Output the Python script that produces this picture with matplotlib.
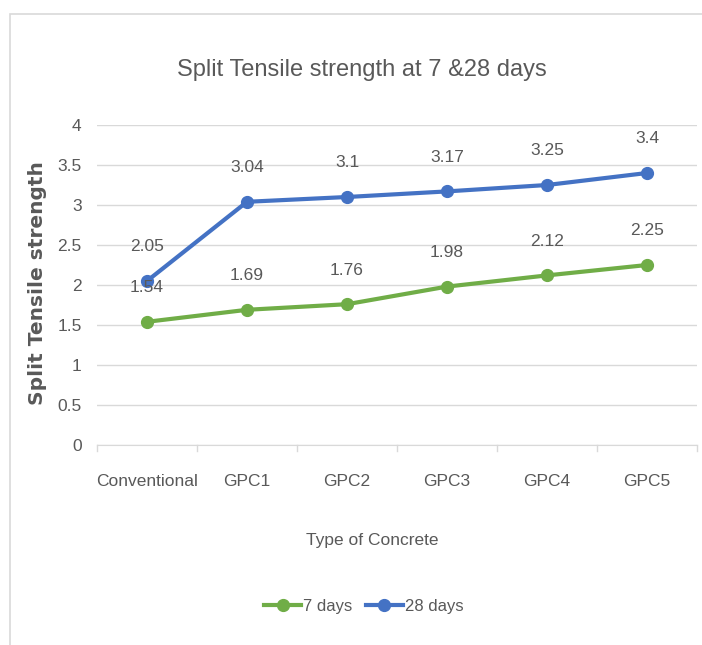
import matplotlib.pyplot as plt
from matplotlib.patches import Rectangle

plt.rcParams['font.family'] = ['Liberation Sans', 'DejaVu Sans']

categories = ['Conventional', 'GPC1', 'GPC2', 'GPC3', 'GPC4', 'GPC5']
days7 = [1.54, 1.69, 1.76, 1.98, 2.12, 2.25]
days28 = [2.05, 3.04, 3.1, 3.17, 3.25, 3.4]
labels7 = ['1.54', '1.69', '1.76', '1.98', '2.12', '2.25']
labels28 = ['2.05', '3.04', '3.1', '3.17', '3.25', '3.4']
yticks = [0, 0.5, 1, 1.5, 2, 2.5, 3, 3.5, 4]
ytick_labels = ['0', '0.5', '1', '1.5', '2', '2.5', '3', '3.5', '4']

green = '#70AD47'
blue = '#4472C4'
grey = '#595959'
W, H = 702, 645

fig = plt.figure(figsize=(W / 100, H / 100), dpi=100)
# chart border (cut off on the right and bottom like the screenshot)
fig.patches.append(Rectangle((10 / W, -0.1), 1.2, 1 - 14 / H + 0.1, transform=fig.transFigure,
                             fill=False, edgecolor='#d9d9d9', linewidth=1.2))
ax = fig.add_axes([97 / W, 1 - 445 / H, 600 / W, 320 / H])

x = list(range(len(categories)))
ax.plot(x, days7, color=green, lw=3, marker='o', ms=8.5, label='7 days', zorder=3)
ax.plot(x, days28, color=blue, lw=3, marker='o', ms=8.5, label='28 days', zorder=3)

for xi, v, t in zip(x, days7, labels7):
    ax.annotate(t, (xi, v), xytext=(0, 24.5), textcoords='offset points', ha='center',
                va='center', fontsize=12.5, color=grey)
for xi, v, t in zip(x, days28, labels28):
    ax.annotate(t, (xi, v), xytext=(0, 24.5), textcoords='offset points', ha='center',
                va='center', fontsize=12.5, color=grey)

ax.set_xlim(-0.5, 5.5)
ax.set_ylim(0, 4)
ax.set_yticks(yticks)
ax.set_yticklabels(ytick_labels)
ax.set_xticks(x)
ax.set_xticklabels(categories)
ax.tick_params(axis='both', length=0, labelsize=12.5, labelcolor=grey)
ax.tick_params(axis='x', pad=21)
ax.tick_params(axis='y', pad=11)
ax.grid(axis='y', color='#d9d9d9', lw=1)
ax.set_axisbelow(True)
for s in ['top', 'right', 'left']:
    ax.spines[s].set_visible(False)
ax.spines['bottom'].set_color('#d9d9d9')

# small category separators under the x axis
for b in [i - 0.5 for i in range(len(categories) + 1)]:
    ax.plot([b, b], [0, -0.07], color='#d9d9d9', lw=1, clip_on=False)

fig.text(362 / W, 1 - 70 / H, 'Split Tensile strength at 7 &28 days', ha='center', va='center',
         fontsize=17, color=grey)
fig.text(372 / W, 1 - 540 / H, 'Type of Concrete', ha='center', va='center',
         fontsize=12.5, color=grey)
fig.text(38 / W, 1 - 283 / H, 'Split Tensile strength', rotation=90, ha='center', va='center',
         fontsize=14.5, fontweight='bold', color=grey, family='DejaVu Sans')

fig.legend(*ax.get_legend_handles_labels(), loc='center', bbox_to_anchor=(364 / W, 1 - 606 / H),
           ncol=2, frameon=False, fontsize=12, labelcolor=grey, handlelength=2.2,
           columnspacing=0.8, handletextpad=0.15)

fig.savefig('out.png', dpi=100)
